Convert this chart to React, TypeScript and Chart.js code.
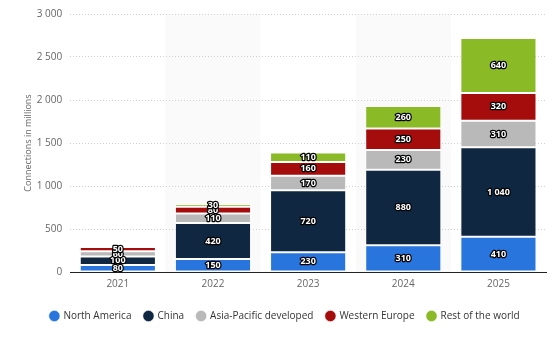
import React, { useEffect, useRef } from "react";
import { Chart, registerables } from "chart.js";

Chart.register(...registerables);

const categories = ["2021", "2022", "2023", "2024", "2025"];
const northAmerica = [80, 150, 230, 310, 410];
const china = [100, 420, 720, 880, 1040];
const asiaPacific = [60, 110, 170, 230, 310];
const westernEurope = [50, 80, 160, 250, 320];
const restOfWorld = [0, 30, 110, 260, 640];
const seriesNames = ["North America", "China", "Asia-Pacific developed", "Western Europe", "Rest of the world"];
const seriesColors = ["#2876dd", "#0f2741", "#b9b9b9", "#a50d0d", "#8aba26"];
const shadedCategories = ["2022", "2024"];

const FONT = "'Open Sans', sans-serif";

const bandPlugin = {
  id: "bands",
  afterLayout(chart: any) {
    const lg = chart.legend;
    if (lg) {
      lg.left += 6;
      lg.right += 6;
      lg.top += 2;
      lg.bottom += 2;
    }
  },
  beforeDraw(chart: any) {
    const { ctx, chartArea, scales } = chart;
    const xs = scales.x;
    const w = (chartArea.right - chartArea.left) / categories.length;
    ctx.save();
    ctx.fillStyle = "#fafafa";
    categories.forEach((c, i) => {
      if (shadedCategories.includes(c)) {
        const cx = xs.getPixelForValue(i);
        ctx.fillRect(cx - w / 2, chartArea.top, w, chartArea.bottom - chartArea.top);
      }
    });
    ctx.restore();
  },
};

const labelPlugin = {
  id: "barLabels",
  afterDatasetsDraw(chart: any) {
    const { ctx } = chart;
    ctx.save();
    ctx.font = `bold 9px ${FONT}`;
    ctx.textAlign = "center";
    ctx.textBaseline = "middle";
    ctx.lineJoin = "round";
    chart.data.datasets.forEach((ds: any, di: number) => {
      const meta = chart.getDatasetMeta(di);
      meta.data.forEach((el: any, i: number) => {
        const v = ds.data[i];
        if (!v) return;
        const y = (el.y + el.base) / 2;
        const txt = v >= 1000 ? String(v).replace(/\B(?=(\d{3})+(?!\d))/g, " ") : String(v);
        ctx.strokeStyle = "#000";
        ctx.lineWidth = 2.5;
        ctx.strokeText(txt, el.x, y);
        ctx.fillStyle = "#fff";
        ctx.fillText(txt, el.x, y);
      });
    });
    ctx.restore();
  },
};

export default function App() {
  const ref = useRef<HTMLCanvasElement>(null);
  useEffect(() => {
    const data = [northAmerica, china, asiaPacific, westernEurope, restOfWorld];
    const chart = new Chart(ref.current!, {
      type: "bar",
      data: {
        labels: categories,
        datasets: data.map((d, i) => ({
          label: seriesNames[i],
          data: d,
          backgroundColor: seriesColors[i],
          borderColor: "rgba(255,255,255,0.6)",
          borderWidth: 1,
          borderSkipped: false,
          barPercentage: 0.8,
          categoryPercentage: 1,
        })),
      },
      options: {
        animation: false,
        responsive: true,
        maintainAspectRatio: false,
        layout: { padding: { left: 12, right: 12, top: 8, bottom: 12 } },
        plugins: {
          legend: {
            position: "bottom",
            labels: {
              usePointStyle: true,
              pointStyle: "circle",
              boxWidth: 8,
              boxHeight: 8,
              padding: 13,
              color: "#333",
              font: { family: FONT, size: 10 },
            },
          },
          tooltip: { enabled: false },
        },
        scales: {
          x: {
            stacked: true,
            grid: { display: false, drawTicks: false },
            border: { color: "#222", width: 1 },
            ticks: { color: "#666", font: { family: FONT, size: 10 }, padding: 6 },
          },
          y: {
            stacked: true,
            min: 0,
            max: 3000,
            ticks: {
              stepSize: 500,
              color: "#666",
              padding: 8,
              font: { family: FONT, size: 10 },
              callback: (v: any) => String(v).replace(/\B(?=(\d{3})+(?!\d))/g, " "),
            },
            grid: { color: "#d0d0d0", drawTicks: false },
            border: { display: false, dash: [1, 2] },
            title: {
              display: true,
              text: "Connections in millions",
              color: "#666",
              font: { family: FONT, size: 9 },
              padding: { top: 11, bottom: -5 },
            },
          },
        },
      },
      plugins: [bandPlugin, labelPlugin],
    });
    return () => chart.destroy();
  }, []);
  return (
    <div style={{ position: "absolute", left: 0, top: 0, width: 558, height: 341, background: "#fff" }}>
      <canvas ref={ref} />
    </div>
  );
}
